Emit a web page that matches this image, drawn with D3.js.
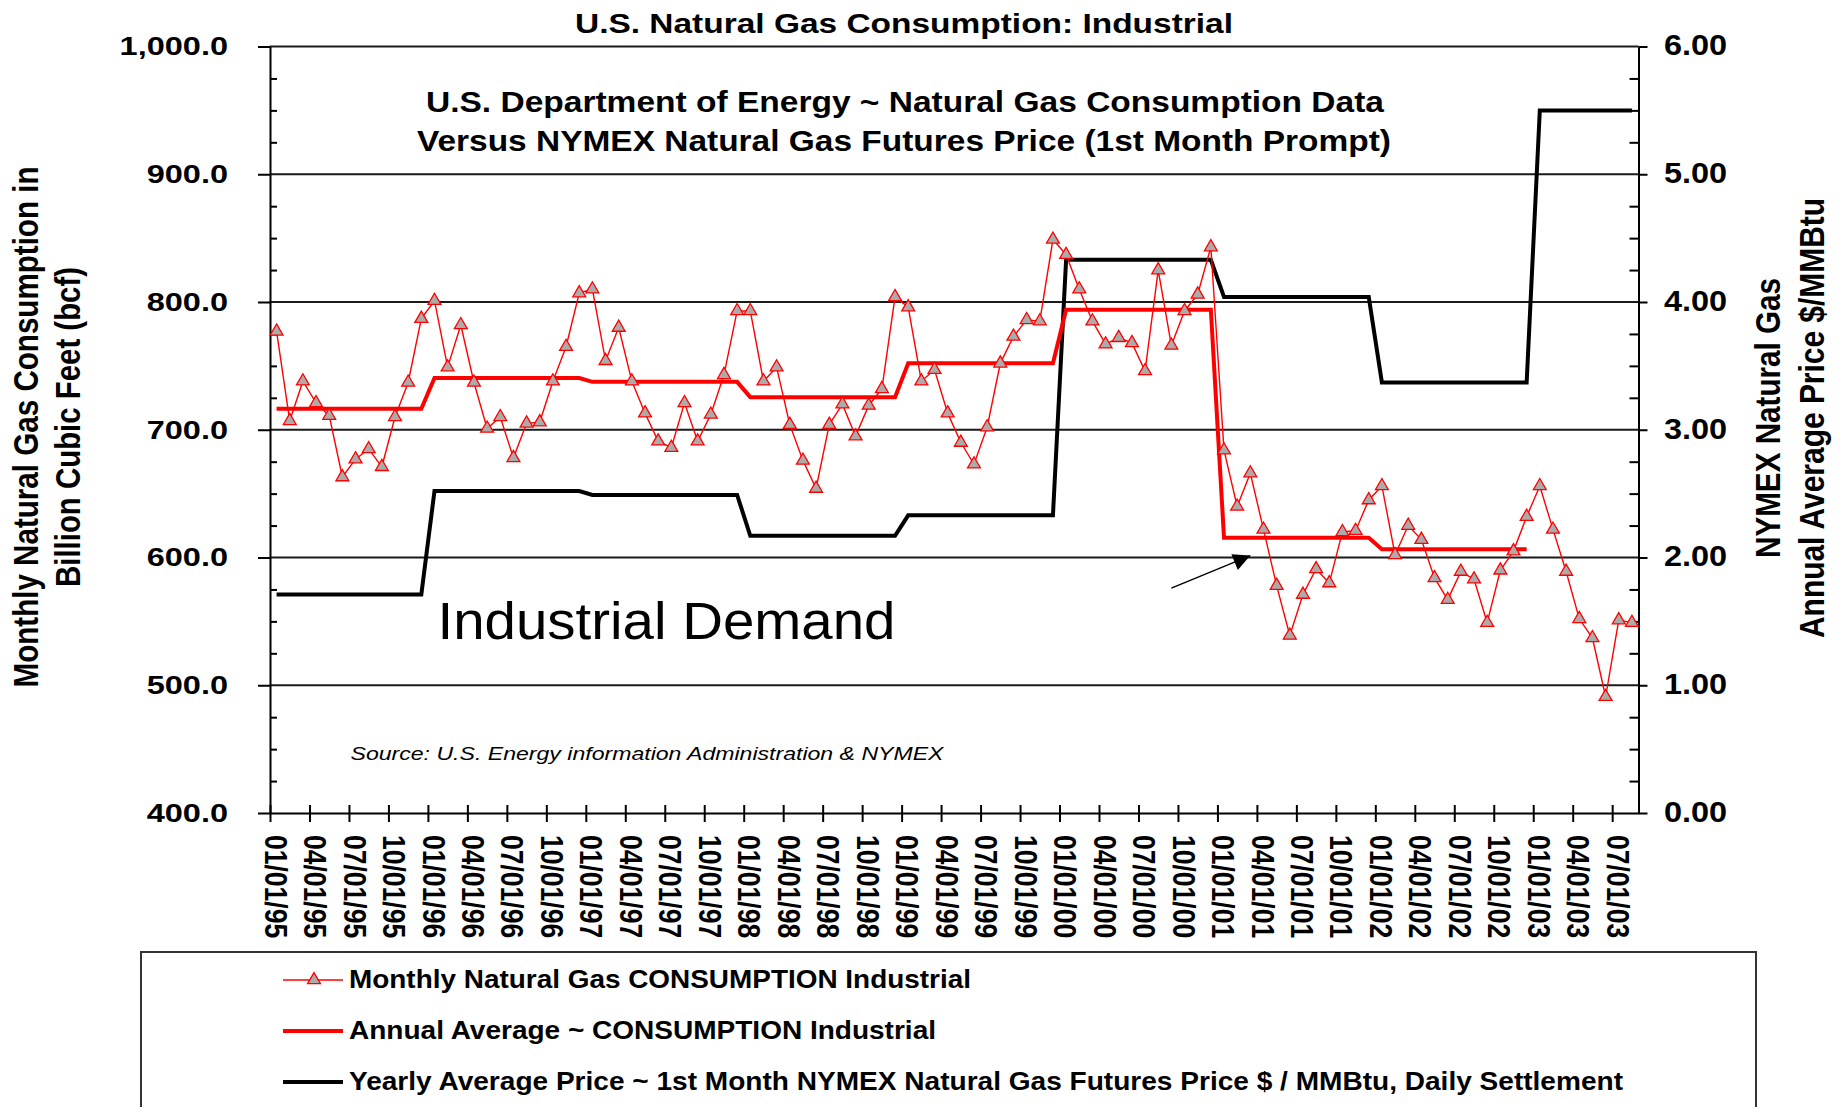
<!DOCTYPE html>
<html>
<head>
<meta charset="utf-8" />
<script src="https://cdn.jsdelivr.net/npm/d3@7"></script>
<style>
  body { margin: 0; background: #fff; }
  text { font-family: "Liberation Sans", Arial, sans-serif; fill: #000; }
  .grid line { stroke: #1a1a1a; stroke-width: 1.8; }
  .axis path, .axis line { stroke: #000; stroke-width: 2; }
</style>
</head>
<body>
<script>
var width = 1844, height = 1107;

// monthly industrial consumption, bcf (Jan 1995 .. Aug 2003)
var monthly = [
  777, 707, 738, 721, 711, 663, 677, 685, 671, 710, 737, 787,
  801, 749, 782, 737, 701, 710, 678, 705, 706, 738, 765, 807,
  810, 754, 780, 738, 713, 691, 686, 721, 691, 712, 743, 793,
  793, 738, 749, 704, 676, 654, 704, 720, 695, 719, 732, 804,
  796, 738, 747, 713, 690, 673, 702, 752, 773, 786, 785, 849,
  837, 810, 785, 767, 772, 768, 746, 825, 766, 793, 806, 843,
  684, 640, 666, 622, 578, 539, 571, 591, 580, 620, 621, 645,
  656, 602, 625, 614, 584, 567, 589, 583, 549, 590, 605, 632,
  656, 622, 589, 552, 537, 491, 551, 549
];

// annual average consumption, 1995..2002
var avgYears = [1995, 1996, 1997, 1998, 1999, 2000, 2001, 2002];
var annualAvg = [716.5, 740.5, 737.5, 725.5, 752, 794, 615.5, 606.5];

// yearly average NYMEX price $/MMBtu, 1995..2003 (2003 drawn Jan-Aug)
var priceYears = [1995, 1996, 1997, 1998, 1999, 2000, 2001, 2002, 2003];
var priceAvg = [1.71, 2.52, 2.49, 2.17, 2.33, 4.33, 4.04, 3.37, 5.50];
var priceMonths = [12, 12, 12, 12, 12, 12, 12, 12, 8];

var quarterLabels = [
  "01/01/95", "04/01/95", "07/01/95", "10/01/95",
  "01/01/96", "04/01/96", "07/01/96", "10/01/96",
  "01/01/97", "04/01/97", "07/01/97", "10/01/97",
  "01/01/98", "04/01/98", "07/01/98", "10/01/98",
  "01/01/99", "04/01/99", "07/01/99", "10/01/99",
  "01/01/00", "04/01/00", "07/01/00", "10/01/00",
  "01/01/01", "04/01/01", "07/01/01", "10/01/01",
  "01/01/02", "04/01/02", "07/01/02", "10/01/02",
  "01/01/03", "04/01/03", "07/01/03"
];
var leftTicks = [400, 500, 600, 700, 800, 900, 1000];
var rightTicks = [0, 1, 2, 3, 4, 5, 6];

var legendItems = [
  "Monthly  Natural Gas CONSUMPTION Industrial",
  "Annual Average ~ CONSUMPTION Industrial",
  "Yearly Average Price ~ 1st Month NYMEX Natural Gas Futures Price $ / MMBtu, Daily Settlement"
];

// plot box (note: "top" is taken by window.top, so prefix these)
var plotL = 270, plotR = 1638.5, plotT = 46.5, plotB = 813;

var x = d3.scaleLinear().domain([0, monthly.length]).range([plotL, plotR]);
var yL = d3.scaleLinear().domain([400, 1000]).range([plotB, plotT]);
var yR = d3.scaleLinear().domain([0, 6]).range([plotB, plotT]);

var svg = d3.select("body").append("svg")
  .attr("width", width).attr("height", height);
svg.append("rect").attr("width", width).attr("height", height).attr("fill", "#fff");

// helper for text that has to fill a measured width
function fitText(str, xx, yy, len, size, weight, style) {
  return svg.append("text")
    .attr("x", xx).attr("y", yy)
    .attr("font-size", size)
    .attr("font-weight", weight || "normal")
    .attr("font-style", style || "normal")
    .attr("textLength", len)
    .attr("lengthAdjust", "spacingAndGlyphs")
    .text(str);
}
function vText(str, cx, cy, len, size, angle) {
  return svg.append("text")
    .attr("transform", "translate(" + cx + "," + cy + ") scale(1.2,1) rotate(" + angle + ")")
    .attr("text-anchor", "middle")
    .attr("dominant-baseline", "central")
    .attr("font-size", size).attr("font-weight", "bold")
    .attr("textLength", len).attr("lengthAdjust", "spacingAndGlyphs")
    .text(str);
}

// gridlines
svg.append("g").attr("class", "grid")
  .selectAll("line").data(leftTicks.slice(1))
  .enter().append("line")
  .attr("x1", plotL).attr("x2", plotR)
  .attr("y1", function(d) { return yL(d); })
  .attr("y2", function(d) { return yL(d); });

// left axis
var minorL = d3.range(425, 1000, 25).filter(function(d) { return d % 100 !== 0; });
svg.append("g").attr("class", "axis")
  .attr("transform", "translate(" + plotL + ",0)")
  .call(d3.axisLeft(yL).tickValues(minorL).tickSize(-7).tickFormat(""))
  .select(".domain").remove();
var gl = svg.append("g").attr("class", "axis")
  .attr("transform", "translate(" + plotL + ",0)")
  .call(d3.axisLeft(yL).tickValues(leftTicks).tickSize(12).tickSizeOuter(0).tickFormat(d3.format(",.1f")));
gl.selectAll("text")
  .attr("x", null).attr("dy", "0.32em")
  .attr("transform", "translate(-42,0) scale(1.25,1)")
  .attr("font-size", 26).attr("font-weight", "bold")
  .attr("font-family", "Liberation Sans, Arial, sans-serif");

// right axis
var minorR = d3.range(0.25, 6, 0.25).filter(function(d) { return d % 1 !== 0; });
svg.append("g").attr("class", "axis")
  .attr("transform", "translate(" + plotR + ",0)")
  .call(d3.axisRight(yR).tickValues(minorR).tickSize(-9).tickFormat(""))
  .select(".domain").remove();
var gr = svg.append("g").attr("class", "axis")
  .attr("transform", "translate(" + plotR + ",0)")
  .call(d3.axisRight(yR).tickValues(rightTicks).tickSize(9).tickSizeOuter(0).tickFormat(d3.format(".2f")));
gr.selectAll("text")
  .attr("x", null).attr("dy", "0.29em")
  .attr("transform", "translate(25.5,0) scale(1.12,1)")
  .attr("font-size", 29).attr("font-weight", "bold")
  .attr("font-family", "Liberation Sans, Arial, sans-serif");

// bottom axis, quarterly ticks
var gx = svg.append("g").attr("class", "axis")
  .attr("transform", "translate(0," + plotB + ")")
  .call(d3.axisBottom(x).tickValues(d3.range(0, quarterLabels.length * 3, 3))
    .tickSize(9).tickSizeOuter(0)
    .tickFormat(function(d, i) { return quarterLabels[i]; }));
gx.selectAll(".tick line").attr("y1", -8);
gx.selectAll("text")
  .attr("y", 0).attr("dy", null)
  .attr("text-anchor", "start")
  .attr("dominant-baseline", "central")
  .attr("transform", "translate(5,22) scale(1.2,1) rotate(90)")
  .attr("font-size", 26.5).attr("font-weight", "bold")
  .attr("font-family", "Liberation Sans, Arial, sans-serif");

// price series (right axis)
var priceData = [];
priceAvg.forEach(function(v, k) {
  for (var j = 0; j < priceMonths[k]; j++) priceData.push({ m: k * 12 + j, v: v });
});
svg.append("path").datum(priceData)
  .attr("fill", "none").attr("stroke", "#000").attr("stroke-width", 4)
  .attr("d", d3.line().x(function(d) { return x(d.m + 0.5); }).y(function(d) { return yR(d.v); }));

// annual average consumption
var avgData = [];
annualAvg.forEach(function(v, k) {
  for (var j = 0; j < 12; j++) avgData.push({ m: k * 12 + j, v: v });
});
svg.append("path").datum(avgData)
  .attr("fill", "none").attr("stroke", "#ff0000").attr("stroke-width", 4)
  .attr("d", d3.line().x(function(d) { return x(d.m + 0.5); }).y(function(d) { return yL(d.v); }));

// monthly consumption with triangle markers
svg.append("path").datum(monthly)
  .attr("fill", "none").attr("stroke", "#ff0000").attr("stroke-width", 1.4)
  .attr("d", d3.line().x(function(d, i) { return x(i + 0.5); }).y(function(d) { return yL(d); }));
var tri = d3.symbol().type(d3.symbolTriangle).size(72);
svg.append("g").selectAll("path").data(monthly)
  .enter().append("path")
  .attr("transform", function(d, i) { return "translate(" + x(i + 0.5) + "," + yL(d) + ")"; })
  .attr("d", tri)
  .attr("fill", "#ababab").attr("stroke", "#ff0000").attr("stroke-width", 1.3);

// titles
fitText("U.S. Natural Gas Consumption: Industrial", 575, 33, 658, 28, "bold");
fitText("U.S. Department of Energy ~ Natural Gas Consumption Data", 426, 111.5, 958, 29, "bold");
fitText("Versus NYMEX Natural Gas Futures Price (1st Month Prompt)", 417, 150.5, 974, 29, "bold");
fitText("Industrial Demand", 437.5, 639, 458, 51, "normal");
fitText("Source: U.S. Energy information Administration & NYMEX", 350.5, 760, 593, 18.6, "normal", "italic");

// axis titles
vText("Monthly Natural Gas Consumption in", 27, 427, 521, 28.5, -90);
vText("Billion Cubic Feet (bcf)", 69, 427, 320, 28.5, -90);
vText("NYMEX Natural Gas", 1769, 418, 280, 28.5, -90);
vText("Annual Average Price $/MMBtu", 1813, 418, 440, 28.5, -90);

// arrow pointing at the 2001 average
svg.append("defs").append("marker")
  .attr("id", "arrow").attr("viewBox", "0 0 10 10")
  .attr("refX", 10).attr("refY", 5)
  .attr("markerUnits", "userSpaceOnUse")
  .attr("markerWidth", 21).attr("markerHeight", 17)
  .attr("orient", "auto")
  .append("path").attr("d", "M0,0L10,5L0,10z").attr("fill", "#000");
svg.append("line")
  .attr("x1", x(68.5)).attr("y1", yL(576))
  .attr("x2", x(74.5)).attr("y2", yL(601.5))
  .attr("stroke", "#000").attr("stroke-width", 1.4)
  .attr("marker-end", "url(#arrow)");

// legend
svg.append("rect")
  .attr("x", 141).attr("y", 952).attr("width", 1615).attr("height", 220)
  .attr("fill", "none").attr("stroke", "#333").attr("stroke-width", 2);
var legRows = [980, 1031, 1082];
var legLens = [622, 587, 1274];
var legStroke = [["#ff0000", 1.4], ["#ff0000", 4], ["#000", 4]];
legendItems.forEach(function(s, i) {
  svg.append("line")
    .attr("x1", 283).attr("x2", 343)
    .attr("y1", legRows[i]).attr("y2", legRows[i])
    .attr("stroke", legStroke[i][0]).attr("stroke-width", legStroke[i][1]);
  fitText(s, 349, legRows[i] + 7.5, legLens[i], 25.6, "bold");
});
svg.append("path")
  .attr("transform", "translate(314," + legRows[0] + ")")
  .attr("d", tri)
  .attr("fill", "#ababab").attr("stroke", "#ff0000").attr("stroke-width", 1.3);
</script>
</body>
</html>
